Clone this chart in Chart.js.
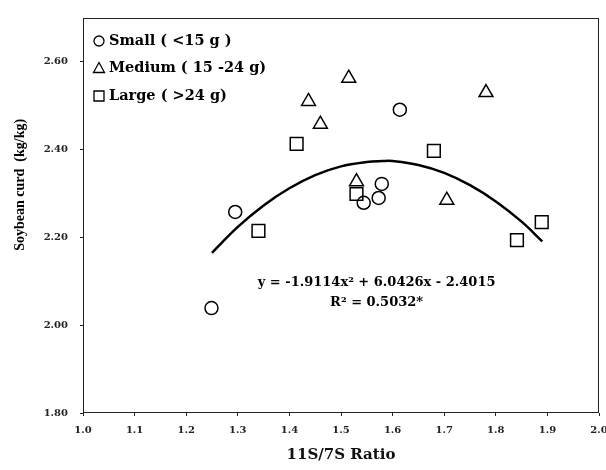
<!DOCTYPE html>
<html>
<head>
<meta charset="utf-8">
<script src="https://cdn.jsdelivr.net/npm/chart.js@4.4.1/dist/chart.umd.min.js"></script>
<style>
body { margin: 0; background: #fff; }
canvas { display: block; }
</style>
</head>
<body>
<canvas id="chart" width="606" height="470"></canvas>
<script>
// values
var smallX = [1.249, 1.295, 1.544, 1.573, 1.579, 1.614];
var smallY = [2.039, 2.258, 2.279, 2.290, 2.322, 2.491];
var mediumX = [1.437, 1.460, 1.515, 1.530, 1.705, 1.781];
var mediumY = [2.510, 2.458, 2.563, 2.327, 2.285, 2.530];
var largeX = [1.340, 1.414, 1.530, 1.680, 1.841, 1.889];
var largeY = [2.215, 2.413, 2.299, 2.397, 2.194, 2.235];
var fitX = [1.25, 1.30, 1.35, 1.40, 1.45, 1.50, 1.55, 1.58, 1.60, 1.65, 1.70, 1.75, 1.80, 1.85, 1.89];
var fitY = [2.165, 2.224, 2.273, 2.312, 2.342, 2.362, 2.372, 2.374, 2.374, 2.365, 2.347, 2.319, 2.282, 2.236, 2.191];
var xTicks = [1.0, 1.1, 1.2, 1.3, 1.4, 1.5, 1.6, 1.7, 1.8, 1.9, 2.0];
var yTicks = [1.80, 2.00, 2.20, 2.40, 2.60];
var legendNames = ['Small ( <15 g )', 'Medium ( 15 -24 g)', 'Large ( >24 g)'];
var equation = 'y = -1.9114x\u00b2 + 6.0426x - 2.4015';
var rSquared = 'R\u00b2 = 0.5032*';

function pairs(xs, ys) {
	var out = [];
	for (var i = 0; i < xs.length; i++) {
		out.push({x: xs[i], y: ys[i]});
	}
	return out;
}

var tickFont = {family: 'DejaVu Serif', weight: 'bold', size: 10};

// legend symbol, drawn by hand so the legend sits inside the frame
function symbol(ctx, style, x, y) {
	ctx.beginPath();
	if (style == 'circle') {
		ctx.arc(x, y, 5, 0, Math.PI * 2);
	} else if (style == 'triangle') {
		ctx.moveTo(x, y - 6);
		ctx.lineTo(x + 5.5, y + 4);
		ctx.lineTo(x - 5.5, y + 4);
		ctx.closePath();
	} else {
		ctx.rect(x - 5, y - 5, 10, 10);
	}
	ctx.stroke();
}

var framePlugin = {
	id: 'frame',
	afterDraw: function(c) {
		var ctx = c.ctx;
		var a = c.chartArea;
		var xs = c.scales.x;
		var ys = c.scales.y;
		ctx.save();
		ctx.strokeStyle = '#222';
		ctx.lineWidth = 1;
		ctx.strokeRect(a.left + 0.5, a.top + 0.5, a.right - a.left - 1, a.bottom - a.top - 1);

		// legend
		ctx.fillStyle = '#000';
		ctx.strokeStyle = '#000';
		ctx.lineWidth = 1.3;
		ctx.textAlign = 'left';
		ctx.textBaseline = 'middle';
		ctx.font = 'bold 14.5px "DejaVu Serif"';
		for (var i = 0; i < legendNames.length; i++) {
			var ly = a.top + 23 + i * 27.5;
			symbol(ctx, c.data.datasets[i].pointStyle, a.left + 16, ly);
			ctx.fillText(legendNames[i], a.left + 26, ly);
		}

		// regression text
		ctx.textAlign = 'center';
		ctx.font = 'bold 13px "DejaVu Serif"';
		ctx.fillText(equation, xs.getPixelForValue(1.569), ys.getPixelForValue(2.096));
		ctx.fillText(rSquared, xs.getPixelForValue(1.569), ys.getPixelForValue(2.051));

		// y axis title
		ctx.translate(20, ys.getPixelForValue(2.32));
		ctx.rotate(-Math.PI / 2);
		ctx.font = 'bold 14px "Liberation Serif"';
		ctx.fillText('Soybean curd  (kg/kg)', 0, 0);
		ctx.restore();
	}
};

var ctx = document.getElementById('chart');
var chart = new Chart(ctx, {
	type: 'scatter',
	data: {
		datasets: [{
			label: legendNames[0],
			data: pairs(smallX, smallY),
			pointStyle: 'circle',
			pointRadius: 6.5,
			borderColor: '#000',
			backgroundColor: 'rgba(0,0,0,0)',
			borderWidth: 1.5
		}, {
			label: legendNames[1],
			data: pairs(mediumX, mediumY),
			pointStyle: 'triangle',
			pointRadius: 8,
			borderColor: '#000',
			backgroundColor: 'rgba(0,0,0,0)',
			borderWidth: 1.5
		}, {
			label: legendNames[2],
			data: pairs(largeX, largeY),
			pointStyle: 'rect',
			pointRadius: 9,
			borderColor: '#000',
			backgroundColor: 'rgba(0,0,0,0)',
			borderWidth: 1.5
		}, {
			label: 'fit',
			data: pairs(fitX, fitY),
			showLine: true,
			pointRadius: 0,
			borderColor: '#000',
			borderWidth: 2.5,
			tension: 0.4,
			fill: false
		}]
	},
	options: {
		responsive: false,
		animation: false,
		layout: {autoPadding: false, padding: {top: 16, right: 7, left: 0, bottom: 0}},
		plugins: {
			tooltip: {enabled: false},
			legend: {display: false}
		},
		scales: {
			x: {
				type: 'linear',
				min: 1.0,
				max: 2.0,
				afterBuildTicks: function(s) {
					s.ticks = xTicks.map(function(v) { return {value: v}; });
				},
				afterFit: function(s) {
					s.height = 57;
					s.paddingLeft = 0;
					s.paddingRight = 0;
				},
				border: {display: false},
				grid: {drawOnChartArea: false, tickLength: 3, color: '#222'},
				ticks: {
					font: tickFont,
					color: '#222',
					padding: 8,
					maxRotation: 0,
					callback: function(v) { return v.toFixed(1); }
				},
				title: {
					display: true,
					text: '11S/7S Ratio',
					color: '#111',
					font: {family: 'DejaVu Serif', weight: 'bold', size: 15},
					padding: {top: 0, bottom: 6}
				}
			},
			y: {
				type: 'linear',
				min: 1.8,
				max: 2.7,
				afterBuildTicks: function(s) {
					s.ticks = yTicks.map(function(v) { return {value: v}; });
				},
				afterFit: function(s) { s.width = 83; },
				border: {display: false},
				grid: {drawOnChartArea: false, tickLength: 3, color: '#222'},
				ticks: {
					font: tickFont,
					color: '#222',
					padding: 12,
					callback: function(v) { return v.toFixed(2); }
				}
			}
		}
	},
	plugins: [framePlugin]
});
</script>
</body>
</html>
